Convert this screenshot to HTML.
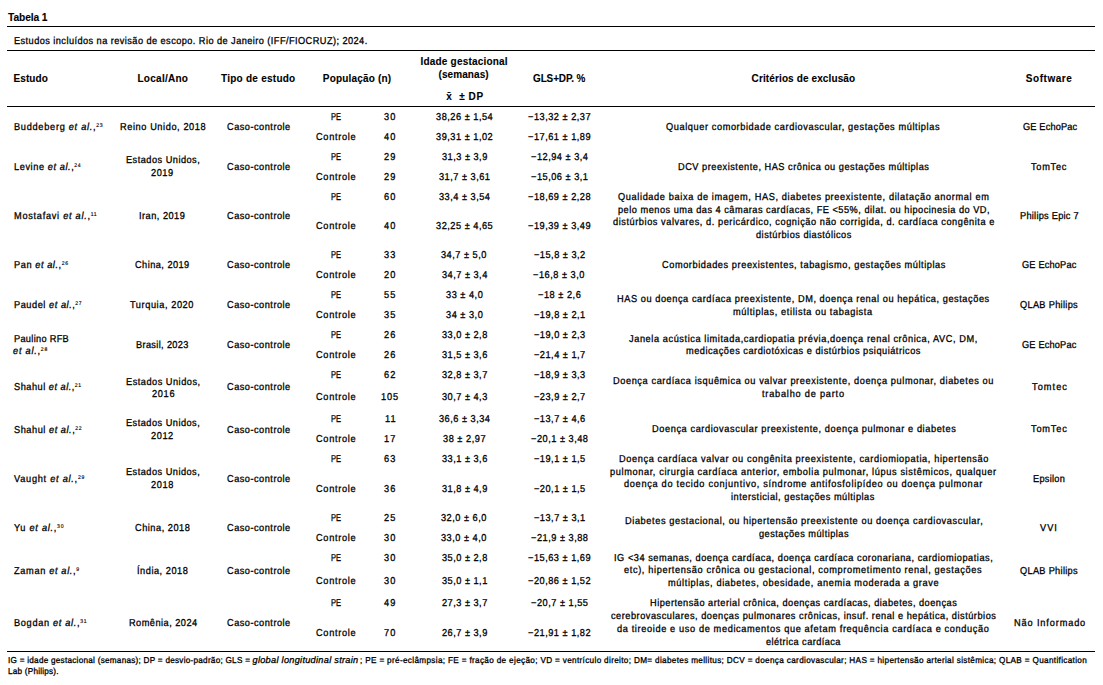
<!DOCTYPE html>
<html><head><meta charset="utf-8"><style>
html,body{margin:0;padding:0;background:#fff;}
body{width:1103px;height:685px;position:relative;overflow:hidden;font-family:"Liberation Sans",sans-serif;color:#000;-webkit-text-stroke:0.3px #000;text-rendering:geometricPrecision;}
.t{position:absolute;white-space:pre;line-height:12px;transform-origin:0 0;}
.t sup{font-size:5.5px;vertical-align:baseline;position:relative;top:-3px;line-height:0;-webkit-text-stroke:0.15px #000;}
.t i{font-style:italic;}
.ln{position:absolute;left:7px;width:1088px;height:1px;background:#000;}
</style></head><body>
<div class="ln" style="top:26px"></div><div class="ln" style="top:50px"></div><div class="ln" style="top:106px"></div><div class="ln" style="top:651px"></div>
<div class="t" style="left:8.00px;top:11.00px;font-size:11px;font-weight:bold;-webkit-text-stroke:0.1px #000;text-rendering:optimizeLegibility;letter-spacing:-0.100px;transform:scaleX(0.9291);">Tabela 1</div>
<div class="t" style="left:14.00px;top:36.00px;font-size:10px;letter-spacing:0.479px;transform:scaleX(0.9200);">Estudos incluídos na revisão de escopo. Rio de Janeiro (IFF/FIOCRUZ); 2024.</div>
<div class="t" style="left:13.60px;top:73.00px;font-size:10px;font-weight:bold;-webkit-text-stroke:0.1px #000;text-rendering:optimizeLegibility;letter-spacing:0.060px;">Estudo</div>
<div class="t" style="left:137.50px;top:73.00px;font-size:10px;font-weight:bold;-webkit-text-stroke:0.1px #000;text-rendering:optimizeLegibility;letter-spacing:0.262px;">Local/Ano</div>
<div class="t" style="left:221.00px;top:73.00px;font-size:10px;font-weight:bold;-webkit-text-stroke:0.1px #000;text-rendering:optimizeLegibility;letter-spacing:0.254px;">Tipo de estudo</div>
<div class="t" style="left:322.80px;top:73.00px;font-size:10px;font-weight:bold;-webkit-text-stroke:0.1px #000;text-rendering:optimizeLegibility;letter-spacing:0.175px;">População (n)</div>
<div class="t" style="left:420.50px;top:56.00px;font-size:10px;font-weight:bold;-webkit-text-stroke:0.1px #000;text-rendering:optimizeLegibility;letter-spacing:0.200px;">Idade gestacional</div>
<div class="t" style="left:438.50px;top:68.50px;font-size:10px;font-weight:bold;-webkit-text-stroke:0.1px #000;text-rendering:optimizeLegibility;letter-spacing:0.087px;">(semanas)</div>
<div class="t" style="left:446.30px;top:90.50px;font-size:10px;font-weight:bold;-webkit-text-stroke:0.1px #000;text-rendering:optimizeLegibility;letter-spacing:0.583px;">x&#772; &nbsp;± DP</div>
<div class="t" style="left:532.60px;top:73.00px;font-size:10px;font-weight:bold;-webkit-text-stroke:0.1px #000;text-rendering:optimizeLegibility;letter-spacing:-0.100px;transform:scaleX(0.9944);">GLS+DP. %</div>
<div class="t" style="left:751.60px;top:73.00px;font-size:10px;font-weight:bold;-webkit-text-stroke:0.1px #000;text-rendering:optimizeLegibility;letter-spacing:0.120px;">Critérios de exclusão</div>
<div class="t" style="left:1025.80px;top:73.00px;font-size:10px;font-weight:bold;-webkit-text-stroke:0.1px #000;text-rendering:optimizeLegibility;letter-spacing:0.543px;">Software</div>
<div class="t" style="left:331.00px;top:112.00px;font-size:10px;letter-spacing:-0.100px;transform:scaleX(0.7482);">PE</div>
<div class="t" style="left:316.00px;top:132.00px;font-size:10px;letter-spacing:0.767px;transform:scaleX(0.9200);">Controle</div>
<div class="t" style="left:384.39px;top:112.00px;font-size:10px;letter-spacing:1.196px;transform:scaleX(0.9200);">30</div>
<div class="t" style="left:384.39px;top:132.00px;font-size:10px;letter-spacing:1.196px;transform:scaleX(0.9200);">40</div>
<div class="t" style="left:435.64px;top:112.00px;font-size:10px;letter-spacing:0.553px;transform:scaleX(0.9200);">38,26 ± 1,54</div>
<div class="t" style="left:435.64px;top:132.00px;font-size:10px;letter-spacing:0.553px;transform:scaleX(0.9200);">39,31 ± 1,02</div>
<div class="t" style="left:528.19px;top:112.00px;font-size:10px;letter-spacing:0.553px;transform:scaleX(0.9200);">−13,32 ± 2,37</div>
<div class="t" style="left:528.19px;top:132.00px;font-size:10px;letter-spacing:0.553px;transform:scaleX(0.9200);">−17,61 ± 1,89</div>
<div class="t" style="left:331.00px;top:152.00px;font-size:10px;letter-spacing:-0.100px;transform:scaleX(0.7482);">PE</div>
<div class="t" style="left:316.00px;top:172.00px;font-size:10px;letter-spacing:0.767px;transform:scaleX(0.9200);">Controle</div>
<div class="t" style="left:384.39px;top:152.00px;font-size:10px;letter-spacing:1.196px;transform:scaleX(0.9200);">29</div>
<div class="t" style="left:384.39px;top:172.00px;font-size:10px;letter-spacing:1.196px;transform:scaleX(0.9200);">29</div>
<div class="t" style="left:441.76px;top:152.00px;font-size:10px;letter-spacing:0.531px;transform:scaleX(0.9200);">31,3 ± 3,9</div>
<div class="t" style="left:438.70px;top:172.00px;font-size:10px;letter-spacing:0.543px;transform:scaleX(0.9200);">31,7 ± 3,61</div>
<div class="t" style="left:530.74px;top:152.00px;font-size:10px;letter-spacing:0.553px;transform:scaleX(0.9200);">−12,94 ± 3,4</div>
<div class="t" style="left:530.74px;top:172.00px;font-size:10px;letter-spacing:0.553px;transform:scaleX(0.9200);">−15,06 ± 3,1</div>
<div class="t" style="left:331.00px;top:192.00px;font-size:10px;letter-spacing:-0.100px;transform:scaleX(0.7482);">PE</div>
<div class="t" style="left:316.00px;top:221.00px;font-size:10px;letter-spacing:0.767px;transform:scaleX(0.9200);">Controle</div>
<div class="t" style="left:384.39px;top:192.00px;font-size:10px;letter-spacing:1.196px;transform:scaleX(0.9200);">60</div>
<div class="t" style="left:384.39px;top:221.00px;font-size:10px;letter-spacing:1.196px;transform:scaleX(0.9200);">40</div>
<div class="t" style="left:438.70px;top:192.00px;font-size:10px;letter-spacing:0.543px;transform:scaleX(0.9200);">33,4 ± 3,54</div>
<div class="t" style="left:435.64px;top:221.00px;font-size:10px;letter-spacing:0.553px;transform:scaleX(0.9200);">32,25 ± 4,65</div>
<div class="t" style="left:528.19px;top:192.00px;font-size:10px;letter-spacing:0.553px;transform:scaleX(0.9200);">−18,69 ± 2,28</div>
<div class="t" style="left:528.19px;top:221.00px;font-size:10px;letter-spacing:0.553px;transform:scaleX(0.9200);">−19,39 ± 3,49</div>
<div class="t" style="left:331.00px;top:250.00px;font-size:10px;letter-spacing:-0.100px;transform:scaleX(0.7482);">PE</div>
<div class="t" style="left:316.00px;top:270.00px;font-size:10px;letter-spacing:0.767px;transform:scaleX(0.9200);">Controle</div>
<div class="t" style="left:384.39px;top:250.00px;font-size:10px;letter-spacing:1.196px;transform:scaleX(0.9200);">33</div>
<div class="t" style="left:384.39px;top:270.00px;font-size:10px;letter-spacing:1.196px;transform:scaleX(0.9200);">20</div>
<div class="t" style="left:441.25px;top:250.00px;font-size:10px;letter-spacing:0.543px;transform:scaleX(0.9200);">34,7 ± 5,0</div>
<div class="t" style="left:441.76px;top:270.00px;font-size:10px;letter-spacing:0.531px;transform:scaleX(0.9200);">34,7 ± 3,4</div>
<div class="t" style="left:533.80px;top:250.00px;font-size:10px;letter-spacing:0.543px;transform:scaleX(0.9200);">−15,8 ± 3,2</div>
<div class="t" style="left:533.29px;top:270.00px;font-size:10px;letter-spacing:0.554px;transform:scaleX(0.9200);">−16,8 ± 3,0</div>
<div class="t" style="left:331.00px;top:290.00px;font-size:10px;letter-spacing:-0.100px;transform:scaleX(0.7482);">PE</div>
<div class="t" style="left:316.00px;top:310.00px;font-size:10px;letter-spacing:0.767px;transform:scaleX(0.9200);">Controle</div>
<div class="t" style="left:384.39px;top:290.00px;font-size:10px;letter-spacing:1.196px;transform:scaleX(0.9200);">55</div>
<div class="t" style="left:384.39px;top:310.00px;font-size:10px;letter-spacing:1.196px;transform:scaleX(0.9200);">35</div>
<div class="t" style="left:445.84px;top:290.00px;font-size:10px;letter-spacing:0.559px;transform:scaleX(0.9200);">33 ± 4,0</div>
<div class="t" style="left:445.84px;top:310.00px;font-size:10px;letter-spacing:0.559px;transform:scaleX(0.9200);">34 ± 3,0</div>
<div class="t" style="left:537.88px;top:290.00px;font-size:10px;letter-spacing:0.571px;transform:scaleX(0.9200);">−18 ± 2,6</div>
<div class="t" style="left:533.80px;top:310.00px;font-size:10px;letter-spacing:0.543px;transform:scaleX(0.9200);">−19,8 ± 2,1</div>
<div class="t" style="left:331.00px;top:330.00px;font-size:10px;letter-spacing:-0.100px;transform:scaleX(0.7482);">PE</div>
<div class="t" style="left:316.00px;top:350.00px;font-size:10px;letter-spacing:0.767px;transform:scaleX(0.9200);">Controle</div>
<div class="t" style="left:384.39px;top:330.00px;font-size:10px;letter-spacing:1.196px;transform:scaleX(0.9200);">26</div>
<div class="t" style="left:384.39px;top:350.00px;font-size:10px;letter-spacing:1.196px;transform:scaleX(0.9200);">26</div>
<div class="t" style="left:441.76px;top:330.00px;font-size:10px;letter-spacing:0.531px;transform:scaleX(0.9200);">33,0 ± 2,8</div>
<div class="t" style="left:441.76px;top:350.00px;font-size:10px;letter-spacing:0.531px;transform:scaleX(0.9200);">31,5 ± 3,6</div>
<div class="t" style="left:533.80px;top:330.00px;font-size:10px;letter-spacing:0.543px;transform:scaleX(0.9200);">−19,0 ± 2,3</div>
<div class="t" style="left:533.80px;top:350.00px;font-size:10px;letter-spacing:0.543px;transform:scaleX(0.9200);">−21,4 ± 1,7</div>
<div class="t" style="left:331.00px;top:370.00px;font-size:10px;letter-spacing:-0.100px;transform:scaleX(0.7482);">PE</div>
<div class="t" style="left:316.00px;top:392.00px;font-size:10px;letter-spacing:0.767px;transform:scaleX(0.9200);">Controle</div>
<div class="t" style="left:384.39px;top:370.00px;font-size:10px;letter-spacing:1.196px;transform:scaleX(0.9200);">62</div>
<div class="t" style="left:381.33px;top:392.00px;font-size:10px;letter-spacing:0.924px;transform:scaleX(0.9200);">105</div>
<div class="t" style="left:441.76px;top:370.00px;font-size:10px;letter-spacing:0.531px;transform:scaleX(0.9200);">32,8 ± 3,7</div>
<div class="t" style="left:441.76px;top:392.00px;font-size:10px;letter-spacing:0.531px;transform:scaleX(0.9200);">30,7 ± 4,3</div>
<div class="t" style="left:533.80px;top:370.00px;font-size:10px;letter-spacing:0.543px;transform:scaleX(0.9200);">−18,9 ± 3,3</div>
<div class="t" style="left:533.80px;top:392.00px;font-size:10px;letter-spacing:0.543px;transform:scaleX(0.9200);">−23,9 ± 2,7</div>
<div class="t" style="left:331.00px;top:414.00px;font-size:10px;letter-spacing:-0.100px;transform:scaleX(0.7482);">PE</div>
<div class="t" style="left:316.00px;top:434.00px;font-size:10px;letter-spacing:0.767px;transform:scaleX(0.9200);">Controle</div>
<div class="t" style="left:384.90px;top:414.00px;font-size:10px;letter-spacing:1.087px;transform:scaleX(0.9200);">11</div>
<div class="t" style="left:384.39px;top:434.00px;font-size:10px;letter-spacing:1.196px;transform:scaleX(0.9200);">17</div>
<div class="t" style="left:438.70px;top:414.00px;font-size:10px;letter-spacing:0.543px;transform:scaleX(0.9200);">36,6 ± 3,34</div>
<div class="t" style="left:442.78px;top:434.00px;font-size:10px;letter-spacing:0.571px;transform:scaleX(0.9200);">38 ± 2,97</div>
<div class="t" style="left:533.80px;top:414.00px;font-size:10px;letter-spacing:0.543px;transform:scaleX(0.9200);">−13,7 ± 4,6</div>
<div class="t" style="left:530.74px;top:434.00px;font-size:10px;letter-spacing:0.553px;transform:scaleX(0.9200);">−20,1 ± 3,48</div>
<div class="t" style="left:331.00px;top:454.00px;font-size:10px;letter-spacing:-0.100px;transform:scaleX(0.7482);">PE</div>
<div class="t" style="left:316.00px;top:484.00px;font-size:10px;letter-spacing:0.767px;transform:scaleX(0.9200);">Controle</div>
<div class="t" style="left:384.39px;top:454.00px;font-size:10px;letter-spacing:1.196px;transform:scaleX(0.9200);">63</div>
<div class="t" style="left:384.39px;top:484.00px;font-size:10px;letter-spacing:1.196px;transform:scaleX(0.9200);">36</div>
<div class="t" style="left:441.76px;top:454.00px;font-size:10px;letter-spacing:0.531px;transform:scaleX(0.9200);">33,1 ± 3,6</div>
<div class="t" style="left:441.76px;top:484.00px;font-size:10px;letter-spacing:0.531px;transform:scaleX(0.9200);">31,8 ± 4,9</div>
<div class="t" style="left:533.80px;top:454.00px;font-size:10px;letter-spacing:0.543px;transform:scaleX(0.9200);">−19,1 ± 1,5</div>
<div class="t" style="left:533.80px;top:484.00px;font-size:10px;letter-spacing:0.543px;transform:scaleX(0.9200);">−20,1 ± 1,5</div>
<div class="t" style="left:331.00px;top:513.00px;font-size:10px;letter-spacing:-0.100px;transform:scaleX(0.7482);">PE</div>
<div class="t" style="left:316.00px;top:533.00px;font-size:10px;letter-spacing:0.767px;transform:scaleX(0.9200);">Controle</div>
<div class="t" style="left:384.39px;top:513.00px;font-size:10px;letter-spacing:1.196px;transform:scaleX(0.9200);">25</div>
<div class="t" style="left:384.39px;top:533.00px;font-size:10px;letter-spacing:1.196px;transform:scaleX(0.9200);">30</div>
<div class="t" style="left:441.25px;top:513.00px;font-size:10px;letter-spacing:0.543px;transform:scaleX(0.9200);">32,0 ± 6,0</div>
<div class="t" style="left:441.25px;top:533.00px;font-size:10px;letter-spacing:0.543px;transform:scaleX(0.9200);">33,0 ± 4,0</div>
<div class="t" style="left:533.80px;top:513.00px;font-size:10px;letter-spacing:0.543px;transform:scaleX(0.9200);">−13,7 ± 3,1</div>
<div class="t" style="left:530.74px;top:533.00px;font-size:10px;letter-spacing:0.553px;transform:scaleX(0.9200);">−21,9 ± 3,88</div>
<div class="t" style="left:331.00px;top:553.00px;font-size:10px;letter-spacing:-0.100px;transform:scaleX(0.7482);">PE</div>
<div class="t" style="left:316.00px;top:576.00px;font-size:10px;letter-spacing:0.767px;transform:scaleX(0.9200);">Controle</div>
<div class="t" style="left:384.39px;top:553.00px;font-size:10px;letter-spacing:1.196px;transform:scaleX(0.9200);">30</div>
<div class="t" style="left:384.39px;top:576.00px;font-size:10px;letter-spacing:1.196px;transform:scaleX(0.9200);">30</div>
<div class="t" style="left:441.76px;top:553.00px;font-size:10px;letter-spacing:0.531px;transform:scaleX(0.9200);">35,0 ± 2,8</div>
<div class="t" style="left:441.76px;top:576.00px;font-size:10px;letter-spacing:0.531px;transform:scaleX(0.9200);">35,0 ± 1,1</div>
<div class="t" style="left:528.19px;top:553.00px;font-size:10px;letter-spacing:0.553px;transform:scaleX(0.9200);">−15,63 ± 1,69</div>
<div class="t" style="left:528.19px;top:576.00px;font-size:10px;letter-spacing:0.553px;transform:scaleX(0.9200);">−20,86 ± 1,52</div>
<div class="t" style="left:331.00px;top:598.00px;font-size:10px;letter-spacing:-0.100px;transform:scaleX(0.7482);">PE</div>
<div class="t" style="left:316.00px;top:628.00px;font-size:10px;letter-spacing:0.767px;transform:scaleX(0.9200);">Controle</div>
<div class="t" style="left:384.39px;top:598.00px;font-size:10px;letter-spacing:1.196px;transform:scaleX(0.9200);">49</div>
<div class="t" style="left:384.39px;top:628.00px;font-size:10px;letter-spacing:1.196px;transform:scaleX(0.9200);">70</div>
<div class="t" style="left:441.76px;top:598.00px;font-size:10px;letter-spacing:0.531px;transform:scaleX(0.9200);">27,3 ± 3,7</div>
<div class="t" style="left:441.76px;top:628.00px;font-size:10px;letter-spacing:0.531px;transform:scaleX(0.9200);">26,7 ± 3,9</div>
<div class="t" style="left:530.74px;top:598.00px;font-size:10px;letter-spacing:0.553px;transform:scaleX(0.9200);">−20,7 ± 1,55</div>
<div class="t" style="left:528.19px;top:628.00px;font-size:10px;letter-spacing:0.553px;transform:scaleX(0.9200);">−21,91 ± 1,82</div>
<div class="t" style="left:13.80px;top:122.00px;font-size:10px;letter-spacing:0.783px;transform:scaleX(0.9200);">Buddeberg <i>et al.</i>,<sup>23</sup></div>
<div class="t" style="left:13.80px;top:162.20px;font-size:10px;letter-spacing:0.633px;transform:scaleX(0.9200);">Levine <i>et al.</i>,<sup>24</sup></div>
<div class="t" style="left:13.80px;top:211.00px;font-size:10px;letter-spacing:0.784px;transform:scaleX(0.9200);">Mostafavi <i>et al.</i>,<sup>11</sup></div>
<div class="t" style="left:13.80px;top:259.80px;font-size:10px;letter-spacing:0.623px;transform:scaleX(0.9200);">Pan <i>et al.</i>,<sup>26</sup></div>
<div class="t" style="left:13.80px;top:300.00px;font-size:10px;letter-spacing:0.594px;transform:scaleX(0.9200);">Paudel <i>et al.</i>,<sup>27</sup></div>
<div class="t" style="left:13.80px;top:333.80px;font-size:10px;letter-spacing:0.335px;transform:scaleX(0.9200);">Paulino RFB</div>
<div class="t" style="left:13.40px;top:345.80px;font-size:10px;letter-spacing:0.826px;transform:scaleX(0.9200);"><i>et al.</i>,<sup>28</sup></div>
<div class="t" style="left:13.80px;top:382.10px;font-size:10px;letter-spacing:0.551px;transform:scaleX(0.9200);">Shahul <i>et al.</i>,<sup>21</sup></div>
<div class="t" style="left:13.80px;top:425.00px;font-size:10px;letter-spacing:0.587px;transform:scaleX(0.9200);">Shahul <i>et al.</i>,<sup>22</sup></div>
<div class="t" style="left:13.80px;top:474.10px;font-size:10px;letter-spacing:0.804px;transform:scaleX(0.9200);">Vaught <i>et al.</i>,<sup>29</sup></div>
<div class="t" style="left:13.80px;top:523.10px;font-size:10px;letter-spacing:0.791px;transform:scaleX(0.9200);">Yu <i>et al.</i>,<sup>30</sup></div>
<div class="t" style="left:13.80px;top:566.20px;font-size:10px;letter-spacing:0.716px;transform:scaleX(0.9200);">Zaman <i>et al.</i>,<sup>9</sup></div>
<div class="t" style="left:13.80px;top:618.20px;font-size:10px;letter-spacing:0.735px;transform:scaleX(0.9200);">Bogdan <i>et al.</i>,<sup>31</sup></div>
<div class="t" style="left:119.90px;top:122.00px;font-size:10px;letter-spacing:0.641px;transform:scaleX(0.9200);">Reino Unido, 2018</div>
<div class="t" style="left:126.40px;top:155.20px;font-size:10px;letter-spacing:0.525px;transform:scaleX(0.9200);">Estados Unidos,</div>
<div class="t" style="left:151.40px;top:167.50px;font-size:10px;letter-spacing:0.601px;transform:scaleX(0.9200);">2019</div>
<div class="t" style="left:139.20px;top:210.80px;font-size:10px;letter-spacing:0.531px;transform:scaleX(0.9200);">Iran, 2019</div>
<div class="t" style="left:135.10px;top:260.00px;font-size:10px;letter-spacing:0.502px;transform:scaleX(0.9200);">China, 2019</div>
<div class="t" style="left:130.30px;top:300.10px;font-size:10px;letter-spacing:0.630px;transform:scaleX(0.9200);">Turquia, 2020</div>
<div class="t" style="left:136.20px;top:340.10px;font-size:10px;letter-spacing:0.379px;transform:scaleX(0.9200);">Brasil, 2023</div>
<div class="t" style="left:126.00px;top:376.50px;font-size:10px;letter-spacing:0.548px;transform:scaleX(0.9200);">Estados Unidos,</div>
<div class="t" style="left:151.80px;top:388.90px;font-size:10px;letter-spacing:0.746px;transform:scaleX(0.9200);">2016</div>
<div class="t" style="left:126.10px;top:418.20px;font-size:10px;letter-spacing:0.525px;transform:scaleX(0.9200);">Estados Unidos,</div>
<div class="t" style="left:151.40px;top:430.80px;font-size:10px;letter-spacing:0.638px;transform:scaleX(0.9200);">2012</div>
<div class="t" style="left:126.10px;top:467.30px;font-size:10px;letter-spacing:0.525px;transform:scaleX(0.9200);">Estados Unidos,</div>
<div class="t" style="left:151.40px;top:479.70px;font-size:10px;letter-spacing:0.710px;transform:scaleX(0.9200);">2018</div>
<div class="t" style="left:135.10px;top:523.10px;font-size:10px;letter-spacing:0.567px;transform:scaleX(0.9200);">China, 2018</div>
<div class="t" style="left:136.90px;top:565.80px;font-size:10px;letter-spacing:0.576px;transform:scaleX(0.9200);">Índia, 2018</div>
<div class="t" style="left:128.70px;top:618.20px;font-size:10px;letter-spacing:0.520px;transform:scaleX(0.9200);">Romênia, 2024</div>
<div class="t" style="left:226.70px;top:122.00px;font-size:10px;letter-spacing:0.540px;transform:scaleX(0.9200);">Caso-controle</div>
<div class="t" style="left:226.70px;top:162.00px;font-size:10px;letter-spacing:0.540px;transform:scaleX(0.9200);">Caso-controle</div>
<div class="t" style="left:226.70px;top:210.80px;font-size:10px;letter-spacing:0.540px;transform:scaleX(0.9200);">Caso-controle</div>
<div class="t" style="left:226.70px;top:260.00px;font-size:10px;letter-spacing:0.540px;transform:scaleX(0.9200);">Caso-controle</div>
<div class="t" style="left:226.70px;top:300.00px;font-size:10px;letter-spacing:0.540px;transform:scaleX(0.9200);">Caso-controle</div>
<div class="t" style="left:226.70px;top:340.00px;font-size:10px;letter-spacing:0.540px;transform:scaleX(0.9200);">Caso-controle</div>
<div class="t" style="left:226.70px;top:381.50px;font-size:10px;letter-spacing:0.540px;transform:scaleX(0.9200);">Caso-controle</div>
<div class="t" style="left:226.70px;top:424.50px;font-size:10px;letter-spacing:0.540px;transform:scaleX(0.9200);">Caso-controle</div>
<div class="t" style="left:226.70px;top:474.00px;font-size:10px;letter-spacing:0.540px;transform:scaleX(0.9200);">Caso-controle</div>
<div class="t" style="left:226.70px;top:523.00px;font-size:10px;letter-spacing:0.540px;transform:scaleX(0.9200);">Caso-controle</div>
<div class="t" style="left:226.70px;top:565.80px;font-size:10px;letter-spacing:0.540px;transform:scaleX(0.9200);">Caso-controle</div>
<div class="t" style="left:226.70px;top:618.20px;font-size:10px;letter-spacing:0.540px;transform:scaleX(0.9200);">Caso-controle</div>
<div class="t" style="left:666.40px;top:122.00px;font-size:10px;letter-spacing:0.645px;transform:scaleX(0.9200);">Qualquer comorbidade cardiovascular, gestações múltiplas</div>
<div class="t" style="left:677.90px;top:162.00px;font-size:10px;letter-spacing:0.563px;transform:scaleX(0.9200);">DCV preexistente, HAS crônica ou gestações múltiplas</div>
<div class="t" style="left:617.70px;top:192.00px;font-size:10px;letter-spacing:0.685px;transform:scaleX(0.9200);">Qualidade baixa de imagem, HAS, diabetes preexistente, dilatação anormal em</div>
<div class="t" style="left:617.70px;top:204.50px;font-size:10px;letter-spacing:0.549px;transform:scaleX(0.9200);">pelo menos uma das 4 câmaras cardíacas, FE &lt;55%, dilat. ou hipocinesia do VD,</div>
<div class="t" style="left:612.70px;top:217.00px;font-size:10px;letter-spacing:0.608px;transform:scaleX(0.9200);">distúrbios valvares, d. pericárdico, cognição não corrigida, d. cardíaca congênita e</div>
<div class="t" style="left:755.90px;top:229.60px;font-size:10px;letter-spacing:0.541px;transform:scaleX(0.9200);">distúrbios diastólicos</div>
<div class="t" style="left:661.70px;top:259.80px;font-size:10px;letter-spacing:0.625px;transform:scaleX(0.9200);">Comorbidades preexistentes, tabagismo, gestações múltiplas</div>
<div class="t" style="left:617.10px;top:294.10px;font-size:10px;letter-spacing:0.613px;transform:scaleX(0.9200);">HAS ou doença cardíaca preexistente, DM, doença renal ou hepática, gestações</div>
<div class="t" style="left:733.20px;top:306.70px;font-size:10px;letter-spacing:0.662px;transform:scaleX(0.9200);">múltiplas, etilista ou tabagista</div>
<div class="t" style="left:629.00px;top:333.60px;font-size:10px;letter-spacing:0.634px;transform:scaleX(0.9200);">Janela acústica limitada,cardiopatia prévia,doença renal crônica, AVC, DM,</div>
<div class="t" style="left:685.60px;top:345.50px;font-size:10px;letter-spacing:0.560px;transform:scaleX(0.9200);">medicações cardiotóxicas e distúrbios psiquiátricos</div>
<div class="t" style="left:612.80px;top:375.80px;font-size:10px;letter-spacing:0.647px;transform:scaleX(0.9200);">Doença cardíaca isquêmica ou valvar preexistente, doença pulmonar, diabetes ou</div>
<div class="t" style="left:762.10px;top:388.50px;font-size:10px;letter-spacing:0.848px;transform:scaleX(0.9200);">trabalho de parto</div>
<div class="t" style="left:651.50px;top:423.80px;font-size:10px;letter-spacing:0.648px;transform:scaleX(0.9200);">Doença cardiovascular preexistente, doença pulmonar e diabetes</div>
<div class="t" style="left:618.60px;top:453.70px;font-size:10px;letter-spacing:0.668px;transform:scaleX(0.9200);">Doença cardíaca valvar ou congênita preexistente, cardiomiopatia, hipertensão</div>
<div class="t" style="left:610.20px;top:466.50px;font-size:10px;letter-spacing:0.680px;transform:scaleX(0.9200);">pulmonar, cirurgia cardíaca anterior, embolia pulmonar, lúpus sistêmicos, qualquer</div>
<div class="t" style="left:623.90px;top:479.30px;font-size:10px;letter-spacing:0.753px;transform:scaleX(0.9200);">doença do tecido conjuntivo, síndrome antifosfolipídeo ou doença pulmonar</div>
<div class="t" style="left:731.30px;top:492.00px;font-size:10px;letter-spacing:0.562px;transform:scaleX(0.9200);">intersticial, gestações múltiplas</div>
<div class="t" style="left:624.90px;top:515.90px;font-size:10px;letter-spacing:0.649px;transform:scaleX(0.9200);">Diabetes gestacional, ou hipertensão preexistente ou doença cardiovascular,</div>
<div class="t" style="left:758.50px;top:528.60px;font-size:10px;letter-spacing:0.528px;transform:scaleX(0.9200);">gestações múltiplas</div>
<div class="t" style="left:614.10px;top:552.80px;font-size:10px;letter-spacing:0.586px;transform:scaleX(0.9200);">IG &lt;34 semanas, doença cardíaca, doença cardíaca coronariana, cardiomiopatias,</div>
<div class="t" style="left:623.90px;top:565.40px;font-size:10px;letter-spacing:0.687px;transform:scaleX(0.9200);">etc), hipertensão crônica ou gestacional, comprometimento renal, gestações</div>
<div class="t" style="left:667.90px;top:577.60px;font-size:10px;letter-spacing:0.690px;transform:scaleX(0.9200);">múltiplas, diabetes, obesidade, anemia moderada a grave</div>
<div class="t" style="left:649.60px;top:598.10px;font-size:10px;letter-spacing:0.537px;transform:scaleX(0.9200);">Hipertensão arterial crônica, doenças cardíacas, diabetes, doenças</div>
<div class="t" style="left:610.90px;top:610.80px;font-size:10px;letter-spacing:0.567px;transform:scaleX(0.9200);">cerebrovasculares, doenças pulmonares crônicas, insuf. renal e hepática, distúrbios</div>
<div class="t" style="left:617.10px;top:623.50px;font-size:10px;letter-spacing:0.685px;transform:scaleX(0.9200);">da tireoide e uso de medicamentos que afetam frequência cardíaca e condução</div>
<div class="t" style="left:765.50px;top:636.50px;font-size:10px;letter-spacing:0.470px;transform:scaleX(0.9200);">elétrica cardíaca</div>
<div class="t" style="left:1022.50px;top:122.00px;font-size:10px;letter-spacing:0.176px;transform:scaleX(0.9200);">GE EchoPac</div>
<div class="t" style="left:1031.30px;top:162.00px;font-size:10px;letter-spacing:0.804px;transform:scaleX(0.9200);">TomTec</div>
<div class="t" style="left:1019.90px;top:211.20px;font-size:10px;letter-spacing:0.284px;transform:scaleX(0.9200);">Philips Epic 7</div>
<div class="t" style="left:1022.40px;top:259.80px;font-size:10px;letter-spacing:0.200px;transform:scaleX(0.9200);">GE EchoPac</div>
<div class="t" style="left:1020.20px;top:300.00px;font-size:10px;letter-spacing:0.348px;transform:scaleX(0.9200);">QLAB Philips</div>
<div class="t" style="left:1022.40px;top:339.80px;font-size:10px;letter-spacing:0.200px;transform:scaleX(0.9200);">GE EchoPac</div>
<div class="t" style="left:1032.10px;top:381.80px;font-size:10px;letter-spacing:1.143px;transform:scaleX(0.9200);">Tomtec</div>
<div class="t" style="left:1031.00px;top:424.00px;font-size:10px;letter-spacing:0.891px;transform:scaleX(0.9200);">TomTec</div>
<div class="t" style="left:1032.80px;top:473.80px;font-size:10px;letter-spacing:0.297px;transform:scaleX(0.9200);">Epsilon</div>
<div class="t" style="left:1040.30px;top:522.90px;font-size:10px;letter-spacing:1.130px;transform:scaleX(0.9200);">VVI</div>
<div class="t" style="left:1020.10px;top:565.70px;font-size:10px;letter-spacing:0.338px;transform:scaleX(0.9200);">QLAB Philips</div>
<div class="t" style="left:1013.80px;top:617.70px;font-size:10px;letter-spacing:0.940px;transform:scaleX(0.9200);">Não Informado</div>
<div class="t" style="left:7.80px;top:654.00px;font-size:8.6px;letter-spacing:0.271px;transform:scaleX(0.9500);">IG = idade gestacional (semanas); DP = desvio-padrão; GLS =</div>
<div class="t" style="left:252.50px;top:654.00px;font-size:9.2px;font-style:italic;letter-spacing:0.284px;">global longitudinal strain</div>
<div class="t" style="left:359.50px;top:654.00px;font-size:8.6px;letter-spacing:0.356px;transform:scaleX(0.9500);">; PE = pré-eclâmpsia; FE = fração de ejeção; VD = ventrículo direito; DM= diabetes mellitus; DCV = doença cardiovascular; HAS = hipertensão arterial sistêmica; QLAB = Quantification</div>
<div class="t" style="left:7.80px;top:665.00px;font-size:8.6px;letter-spacing:0.235px;transform:scaleX(0.9500);">Lab (Philips).</div>
</body></html>
